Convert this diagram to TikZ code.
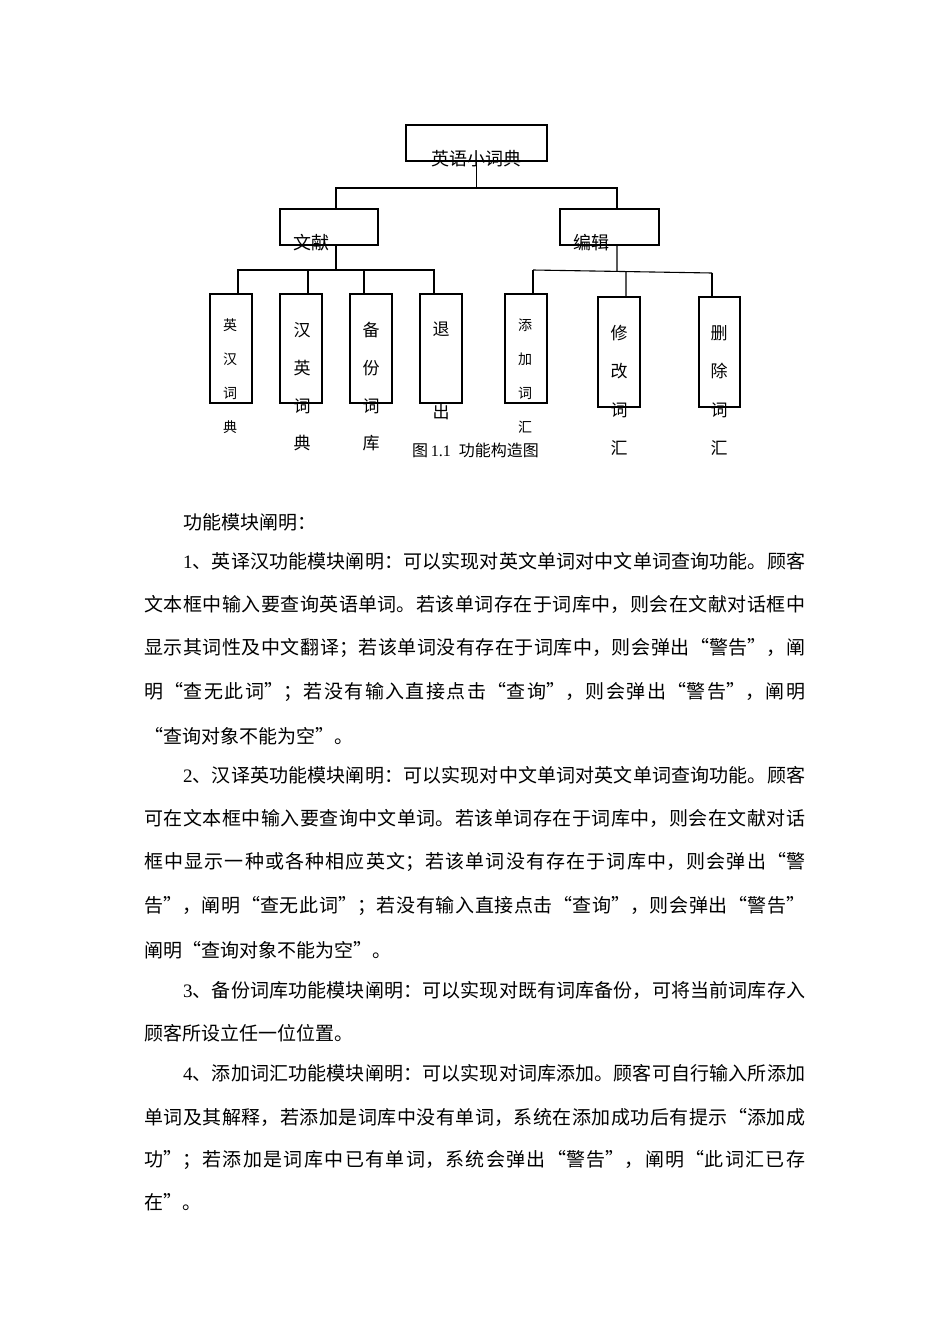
\documentclass[tikz,border=0pt]{standalone}
\usepackage{fontspec}
\setmainfont{Liberation Serif}
\newfontfamily\cjk{Noto Sans CJK SC}
\usetikzlibrary{calc}
\newcommand\jline[2]{\parbox{#1}{\XeTeXlinebreaklocale "zh"\XeTeXlinebreakskip=0pt plus 1fil minus 1pt\parfillskip=0pt\relax #2}}
\begin{document}
\begin{tikzpicture}[x=1pt,y=-1pt,
  box/.style={draw, line width=1.1pt, inner sep=0, outer sep=0},
  lab/.style={font=\cjk\fontsize{18}{18}\selectfont, inner sep=0},
  vs/.style={font=\cjk\fontsize{14}{34}\selectfont, align=center, inner sep=0},
  vm/.style={font=\cjk\fontsize{17}{38}\selectfont, align=center, inner sep=0},
  body/.style={font=\cjk\fontsize{19}{20}\selectfont, anchor=west, inner sep=0},
  conn/.style={line width=1.1pt}]
\fill[white] (0,0) rectangle (950,1344);
\useasboundingbox (0,0) rectangle (950,1344);
% boxes
\node[box, minimum width=141pt, minimum height=36pt] (top) at (476.5,143) {};
\node[box, minimum width=98pt, minimum height=36pt] (wx) at (329,227) {};
\node[box, minimum width=99pt, minimum height=36pt] (bj) at (609.5,227) {};
\node[box, minimum width=42pt, minimum height=109pt] (b1) at (231,348.5) {};
\node[box, minimum width=42pt, minimum height=109pt] (b2) at (301,348.5) {};
\node[box, minimum width=42pt, minimum height=109pt] (b3) at (371,348.5) {};
\node[box, minimum width=42pt, minimum height=109pt] (b4) at (441,348.5) {};
\node[box, minimum width=42pt, minimum height=109pt] (b5) at (526,348.5) {};
\node[box, minimum width=42pt, minimum height=110pt] (b6) at (619,352) {};
\node[box, minimum width=41pt, minimum height=110pt] (b7) at (719.5,352) {};
% connectors
\draw[conn] (top.south) -- ++(0,27) coordinate (j1);
\draw[conn] ([xshift=7pt]wx.north) |- (j1) -| ([xshift=7.5pt]bj.north);
\draw[conn] ([xshift=7pt]wx.south) -- ++(0,25) coordinate (j2);
\draw[conn] ([xshift=7pt]b1.north) |- (j2) -| ([xshift=-7pt]b4.north);
\draw[conn] ([xshift=7pt]b2.north) -- ([xshift=7pt]b2.north |- j2);
\draw[conn] ([xshift=-7pt]b3.north) -- ([xshift=-7pt]b3.north |- j2);
\coordinate (rL) at ([xshift=7pt]b5.north |- 0,270);
\coordinate (rR) at ([xshift=-7.5pt]b7.north |- 0,273);
\draw[conn] (rL) -- (rR);
\draw[conn] ([xshift=7pt]b5.north) -- (rL);
\draw[conn] ([xshift=-7.5pt]b7.north) -- (rR);
\draw[conn] ([xshift=7pt]b6.north) -- ($(rL)!0.5196!(rR)$);
\draw[conn] ([xshift=7.5pt]bj.south) -- ($(rL)!0.4693!(rR)$);
% labels
\node[lab] (tt) at (476,159) {英语小词典};
\node[lab] (wt) at (311,243) {文献};
\node[lab] (bt) at (591,243) {编辑};
\node[vs] (t1) at (230,376) {英\\汉\\词\\典};
\node[vm, font=\cjk\fontsize{17}{37.7}\selectfont] (t2) at (302,387) {汉\\英\\词\\典};
\node[vm, font=\cjk\fontsize{17}{37.7}\selectfont] (t3) at (371,387) {备\\份\\词\\库};
\node[vm, font=\cjk\fontsize{17}{83}\selectfont] (t4) at (441,370.5) {退\\出};
\node[vs] (t5) at (525,376) {添\\加\\词\\汇};
\node[vm, font=\cjk\fontsize{17}{38.3}\selectfont] (t6) at (619,390.5) {修\\改\\词\\汇};
\node[vm, font=\cjk\fontsize{17}{38.3}\selectfont] (t7) at (719,390.5) {删\\除\\词\\汇};
\node[font=\cjk\fontsize{16}{16}\selectfont, inner sep=0] (cap) at (475.5,450) {图\,\textrm{1.1}\enspace 功能构造图};
% body text
\node[body] (p0) at (183,522) {功能模块阐明：};
\node[body] (p1a) at (183,561) {\jline{622pt}{\textrm{1}、英译汉功能模块阐明：可以实现对英文单词对中文单词查询功能。顾客}};
\node[body] (p1b) at (144,604) {\jline{661pt}{文本框中输入要查询英语单词。若该单词存在于词库中，则会在文献对话框中}};
\node[body] (p1c) at (144,648) {\jline{661pt}{显示其词性及中文翻译；若该单词没有存在于词库中，则会弹出“警告”，阐}};
\node[body] (p1d) at (144,692) {\jline{661pt}{明“查无此词”；若没有输入直接点击“查询”，则会弹出“警告”，阐明}};
\node[body] (p1e) at (144,736) {“查询对象不能为空”。};
\node[body] (p2a) at (183,775) {\jline{622pt}{\textrm{2}、汉译英功能模块阐明：可以实现对中文单词对英文单词查询功能。顾客}};
\node[body] (p2b) at (144,818) {\jline{661pt}{可在文本框中输入要查询中文单词。若该单词存在于词库中，则会在文献对话}};
\node[body] (p2c) at (144,862) {\jline{661pt}{框中显示一种或各种相应英文；若该单词没有存在于词库中，则会弹出“警}};
\node[body] (p2d) at (144,906) {\jline{661pt}{告”，阐明“查无此词”；若没有输入直接点击“查询”，则会弹出“警告”}};
\node[body] (p2e) at (144,950) {阐明“查询对象不能为空”。};
\node[body] (p3a) at (183,990) {\jline{622pt}{\textrm{3}、备份词库功能模块阐明：可以实现对既有词库备份，可将当前词库存入}};
\node[body] (p3b) at (144,1033) {顾客所设立任一位位置。};
\node[body] (p4a) at (183,1073) {\jline{622pt}{\textrm{4}、添加词汇功能模块阐明：可以实现对词库添加。顾客可自行输入所添加}};
\node[body] (p4b) at (144,1117) {\jline{661pt}{单词及其解释，若添加是词库中没有单词，系统在添加成功后有提示“添加成}};
\node[body] (p4c) at (144,1160) {\jline{661pt}{功”；若添加是词库中已有单词，系统会弹出“警告”，阐明“此词汇已存}};
\node[body] (p4d) at (144,1202) {在”。};
\end{tikzpicture}
\end{document}
